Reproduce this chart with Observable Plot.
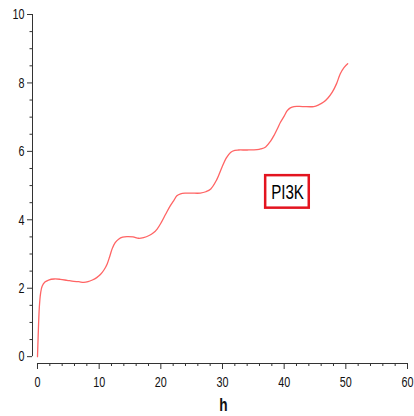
<!DOCTYPE html>
<html>
<head>
<meta charset="utf-8">
<script src="https://cdn.jsdelivr.net/npm/d3@7"></script>
<script src="https://cdn.jsdelivr.net/npm/@observablehq/plot@0.6"></script>
<style>
  html, body { margin: 0; padding: 0; background: #fff; }
  #chart svg { display: block; overflow: visible; }
</style>
</head>
<body>
<div id="chart"></div>
<script>
// Time (h) and PI3K level
const hours = [0, 0.1, 0.3, 0.5, 0.75, 1.2, 1.8, 2.7, 3.7, 4.8, 5.9, 6.7, 7.5, 8.2, 8.9, 9.6, 10.2, 10.8, 11.3, 11.7, 12.1, 12.6, 13.2, 13.8, 14.5, 15.5, 16.4, 17.2, 18.1, 18.8, 19.4, 20.1, 20.8, 21.5, 22.1, 22.6, 23.2, 24.0, 25.0, 26.4, 27.3, 28.1, 29.0, 29.9, 30.6, 31.3, 32.0, 32.6, 34.0, 35.6, 36.2, 37.0, 37.8, 38.4, 38.9, 39.4, 40.0, 40.5, 41.0, 41.6, 43.0, 44.8, 45.6, 46.4, 47.1, 47.8, 48.5, 49.1, 49.7, 50.3];
const pi3k = [0, 0.55, 1.45, 1.85, 2.06, 2.18, 2.24, 2.27, 2.26, 2.23, 2.20, 2.19, 2.17, 2.19, 2.24, 2.31, 2.40, 2.54, 2.71, 2.92, 3.15, 3.33, 3.44, 3.49, 3.51, 3.50, 3.46, 3.48, 3.54, 3.62, 3.73, 3.93, 4.17, 4.40, 4.56, 4.70, 4.76, 4.78, 4.78, 4.78, 4.82, 4.90, 5.15, 5.53, 5.80, 5.97, 6.03, 6.04, 6.04, 6.05, 6.07, 6.13, 6.30, 6.48, 6.66, 6.85, 7.03, 7.19, 7.27, 7.31, 7.31, 7.31, 7.36, 7.44, 7.56, 7.73, 7.98, 8.27, 8.45, 8.56];

const xMajor = [0, 10, 20, 30, 40, 50, 60];
const xMinor = [2, 4, 6, 8, 12, 14, 16, 18, 22, 24, 26, 28, 32, 34, 36, 38, 42, 44, 46, 48, 52, 54, 56, 58];
const yMajor = [0, 2, 4, 6, 8, 10];
const yMinor = [0.5, 1, 1.5, 2.5, 3, 3.5, 4.5, 5, 5.5, 6.5, 7, 7.5, 8.5, 9, 9.5];

const xTitle = "h";
const legendLabel = "PI3K";
const legendAt = {x: 40.55, y: 4.8};
const legendBox = {x1: 37.0, x2: 44.07, y1: 4.34, y2: 5.29};

const data = hours.map((h, i) => ({h, v: pi3k[i]}));

const axisColor = "#333";
const font = "'Liberation Sans', Arial, sans-serif";

const chart = Plot.plot({
  width: 414,
  height: 416,
  marginLeft: 32,
  marginRight: 7,
  marginTop: 14,
  marginBottom: 53,
  style: {background: "#fff", fontFamily: font, fontSize: "15px", color: "#111"},
  x: {domain: [-0.81, 60], axis: null},
  y: {domain: [-0.2, 10], axis: null},
  marks: [
    // axis lines
    Plot.ruleY([-0.2], {x1: 0, x2: 60, stroke: axisColor, strokeWidth: 1}),
    Plot.ruleX([-0.81], {y1: 0, y2: 10, stroke: axisColor, strokeWidth: 1}),
    // y ticks
    Plot.axisY(yMajor, {anchor: "left", tickSize: 5, tickPadding: 3, stroke: axisColor, fill: "#111", fontSize: 15, label: null}),
    Plot.axisY(yMinor, {anchor: "left", tickSize: 2.5, tickFormat: () => "", stroke: axisColor, label: null}),
    // x ticks
    Plot.axisX(xMajor, {anchor: "bottom", tickSize: 6, tickPadding: 6.5, stroke: axisColor, fill: "#111", fontSize: 15, label: null}),
    Plot.axisX(xMinor, {anchor: "bottom", tickSize: 3, tickFormat: () => "", stroke: axisColor, label: null}),
    // x title
    Plot.text([xTitle], {frameAnchor: "bottom", lineAnchor: "middle", dx: 3.5, dy: 41.5, fontWeight: "bold", fontSize: 19, fill: "#111"}),
    // curve
    Plot.line(data, {x: "h", y: "v", stroke: "#ff6464", strokeWidth: 1.3, curve: "catmull-rom"}),
    // legend box
    Plot.rect([legendBox], {x1: "x1", x2: "x2", y1: "y1", y2: "y2", fill: "none", stroke: "#e3141f", strokeWidth: 2.5}),
    Plot.text([legendAt], {x: "x", y: "y", text: () => legendLabel, fontSize: 21, fill: "#000", lineAnchor: "middle"})
  ]
});

// the reference's lettering is horizontally compressed
chart.querySelectorAll("text").forEach(t => {
  const tr = t.getAttribute("transform");
  if (tr) t.setAttribute("transform", tr + " scale(0.72,1)");
});

document.getElementById("chart").appendChild(chart);
</script>
</body>
</html>
